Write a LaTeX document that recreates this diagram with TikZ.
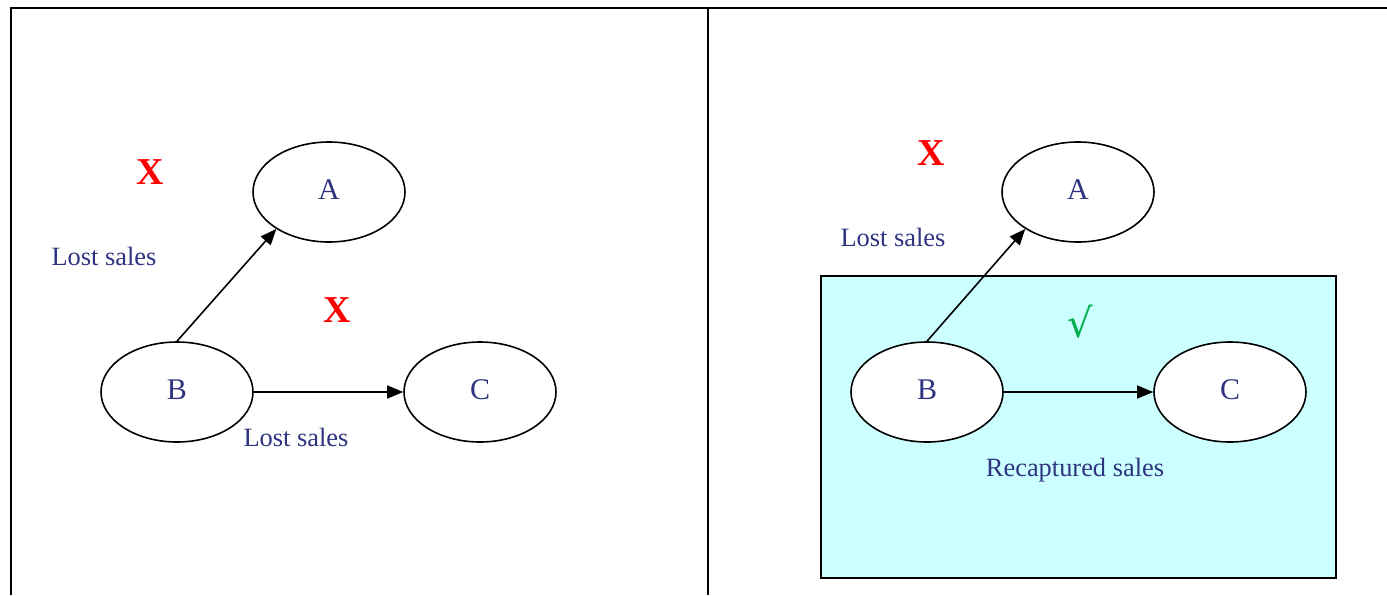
\documentclass[tikz,border=0pt]{standalone}
\usepackage{fontspec}
\setmainfont{Liberation Serif}
\newfontfamily\symfont{DejaVu Sans}
\usetikzlibrary{arrows.meta,shapes.geometric,positioning}

\definecolor{labelblue}{RGB}{46,52,128}
\definecolor{lostred}{RGB}{255,0,0}
\definecolor{okgreen}{RGB}{0,176,80}
\definecolor{recapfill}{RGB}{204,255,255}

\begin{document}
\begin{tikzpicture}[x=0.5pt,y=-0.5pt,
  brand/.style={draw, thick, ellipse, fill=white, minimum width=76pt, minimum height=50pt, inner sep=0pt,
    text=labelblue, font=\fontsize{15}{18}\selectfont, text depth=2pt},
  salesnote/.style={text=labelblue, font=\fontsize{13.2}{16}\selectfont},
  lostmark/.style={text=lostred, font=\fontsize{19}{22}\selectfont\bfseries},
  switch/.style={-{Triangle[length=8pt,width=6.5pt]}, thick}]
\useasboundingbox (0,0) rectangle (1387,595);
% Frame of the two panels
\draw[line width=1pt] (11,595) -- (11,8) -- (1387,8);
\draw[line width=1pt] (708,8) -- (708,595);
% Left panel: no substitution
\node[brand] (lA) at (329,192) {A};
\node[brand] (lB) at (177,392) {B};
\node[brand] (lC) at (480,392) {C};
\draw[switch] (lB.north) -- (lA.215);
\draw[switch] (lB.east) -- (lC.west);
\node[lostmark] (lX1) at (150,172) {X};
\node[lostmark] (lX2) at (337,310) {X};
\node[salesnote] (lLost1) at (104,256) {Lost sales};
\node[salesnote] (lLost2) at (296,437) {Lost sales};
% Right panel: recaptured sales
\draw[thick, fill=recapfill] (821,276) rectangle (1336,578);
\node[brand] (rA) at (1078,192) {A};
\node[brand] (rB) at (927,392) {B};
\node[brand] (rC) at (1230,392) {C};
\draw[switch] (rB.north) -- (rA.215);
\draw[switch] (rB.east) -- (rC.west);
\node[lostmark] (rX) at (931,153) {X};
\node[salesnote] (rLost) at (893,237) {Lost sales};
\node[text=okgreen, font=\symfont\fontsize{20}{24}\selectfont] (rOk) at (1080,322) {√};
\node[salesnote] (rRecap) at (1075,470) {Recaptured sales};
\end{tikzpicture}
\end{document}
